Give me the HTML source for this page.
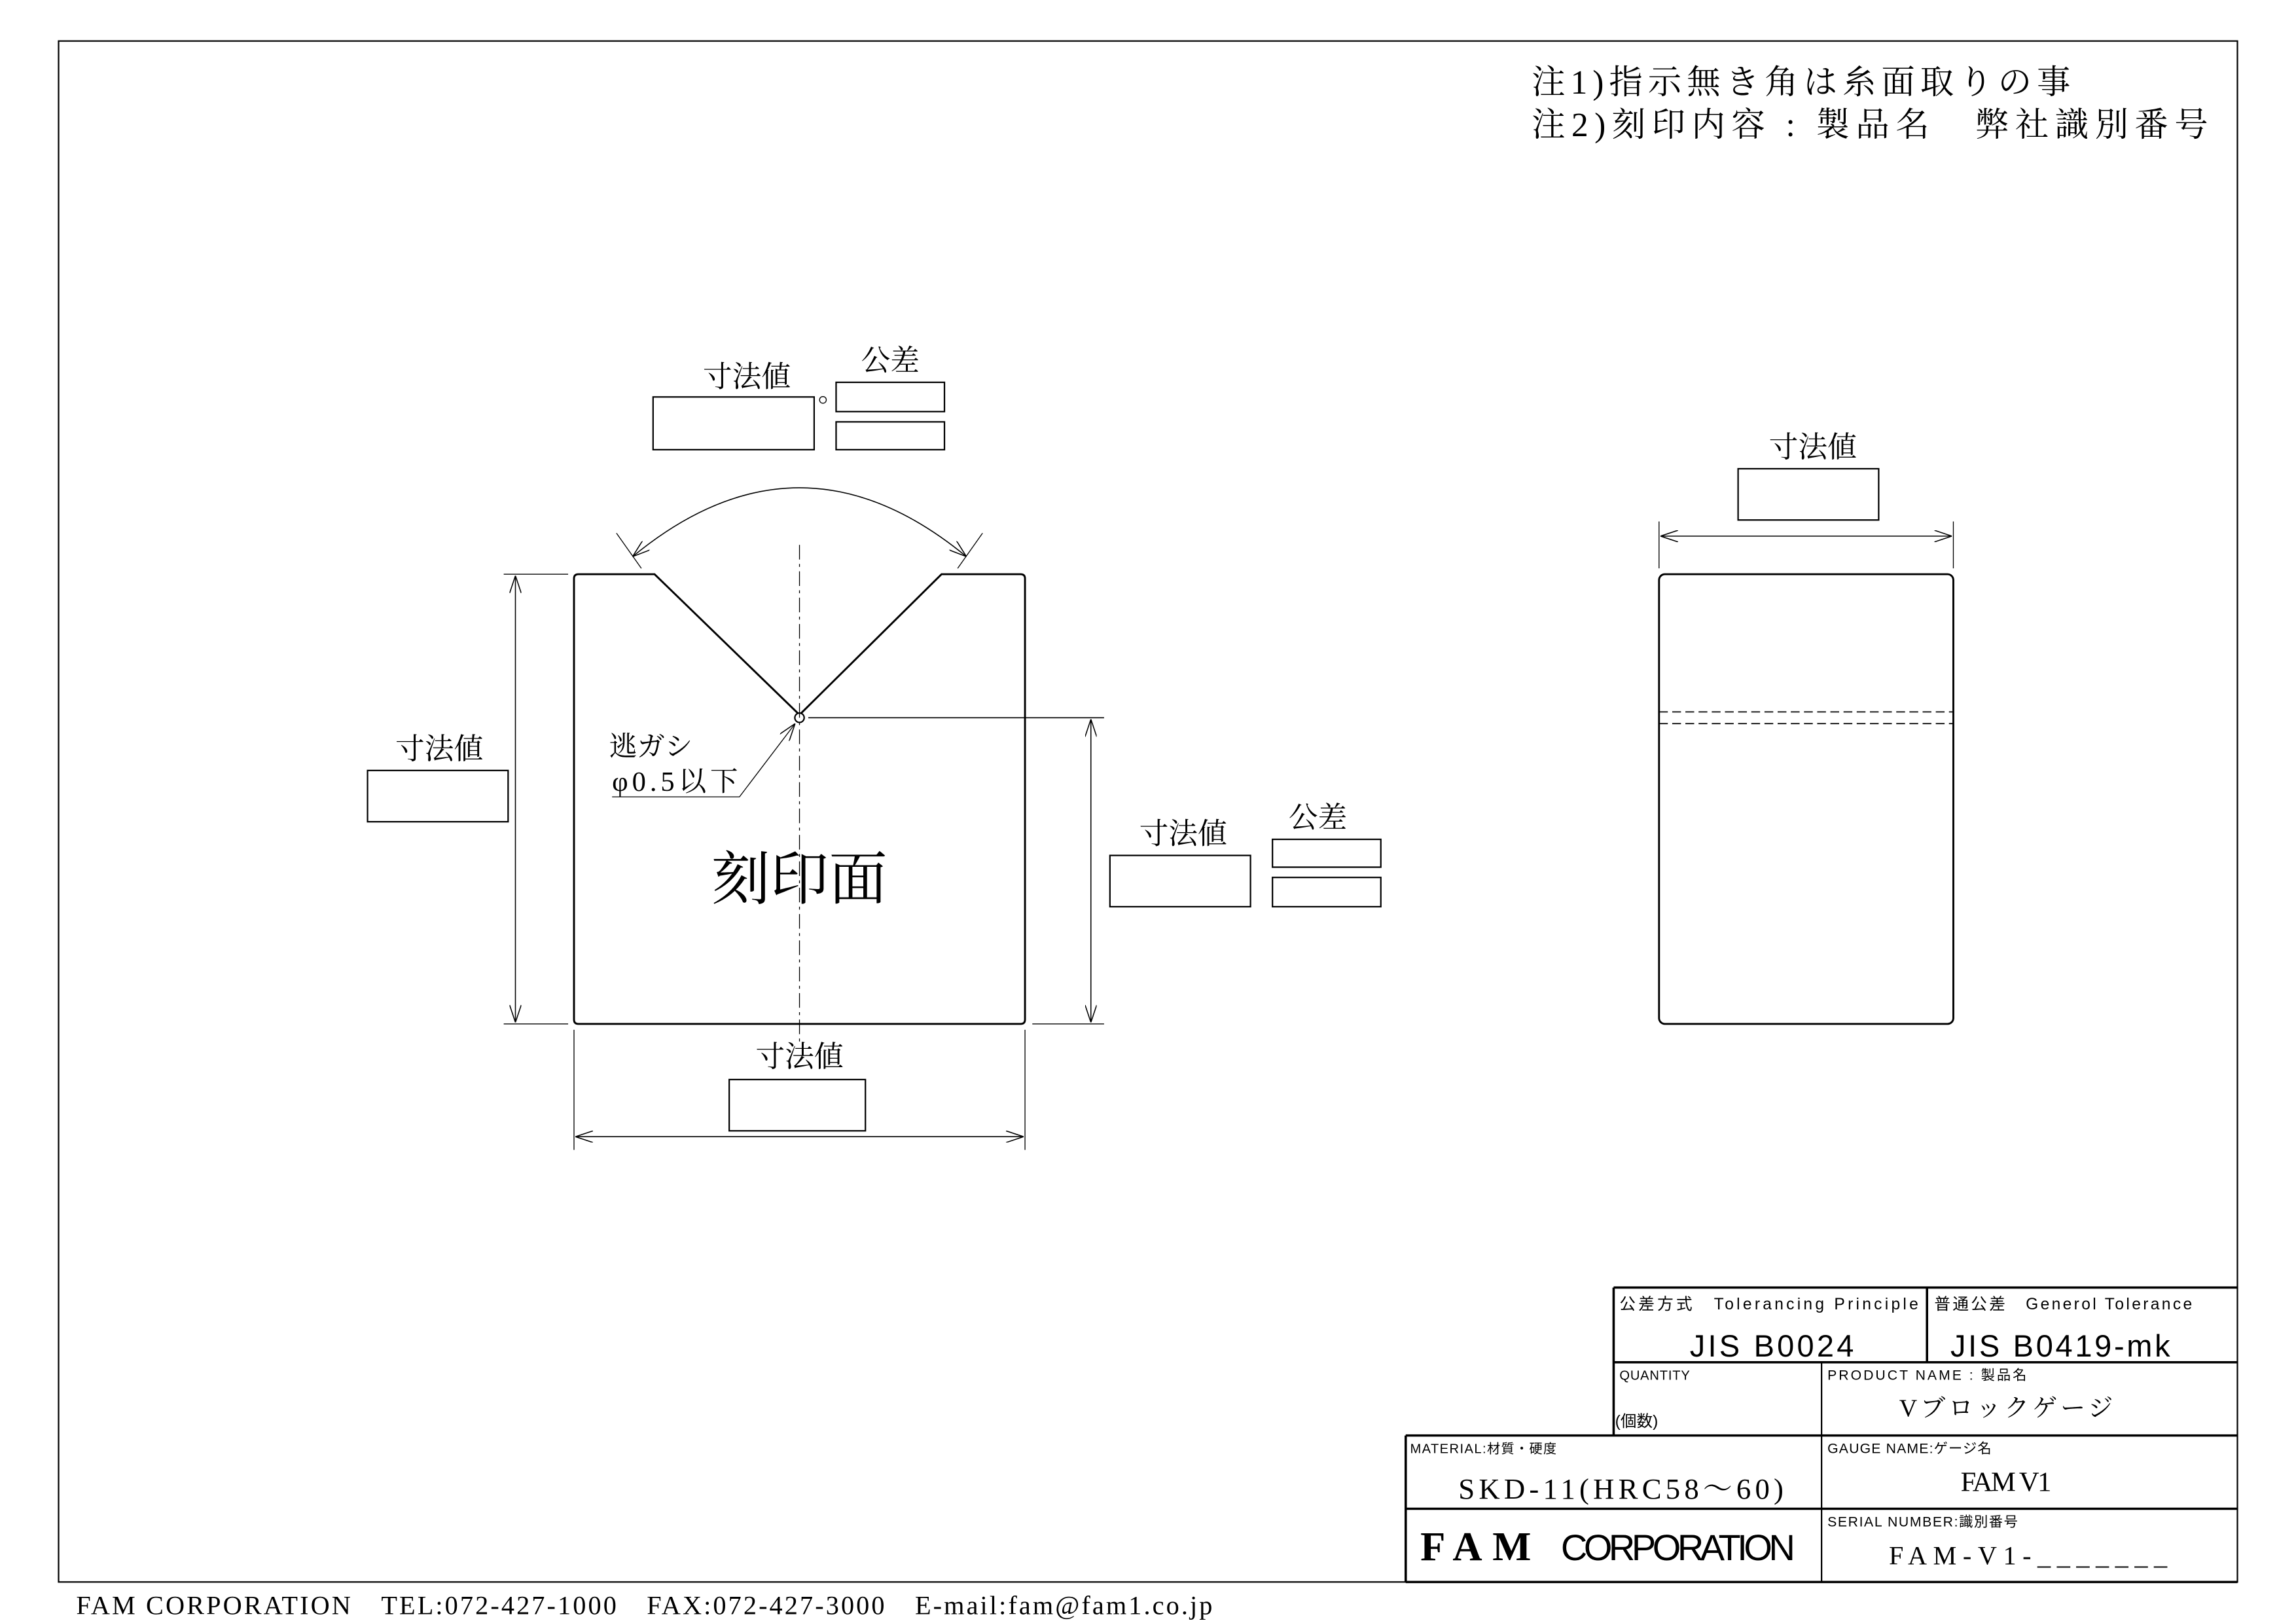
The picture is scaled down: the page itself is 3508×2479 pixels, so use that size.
<!DOCTYPE html>
<html><head><meta charset="utf-8"><style>
html,body{margin:0;padding:0;background:#fff;}
svg{display:block;}
text{font-family:"Liberation Serif","Noto Serif CJK SC","Noto Sans CJK JP",serif;fill:#000;}
.s{font-family:"Liberation Sans","Noto Sans CJK JP",sans-serif;}
</style></head><body>
<svg width="3508" height="2479" viewBox="0 0 1568 1108" preserveAspectRatio="none" xmlns="http://www.w3.org/2000/svg">
<defs>
<marker id="a" viewBox="0 0 12 8" refX="12" refY="4" markerWidth="12" markerHeight="8" markerUnits="userSpaceOnUse" orient="auto-start-reverse">
<path d="M0,0 L12,4 L0,8" fill="none" stroke="#000" stroke-width="0.7"/>
</marker>
</defs>
<rect width="1568" height="1108" fill="#fff"/>
<rect x="40" y="28" width="1488" height="1052" fill="none" stroke="#000" stroke-width="1"/>
<text x="1046" y="64" font-size="23" textLength="368">注1)指示無き角は糸面取りの事</text>
<text x="1046" y="93" font-size="23" textLength="462">注2)刻印内容 : 製品名　弊社識別番号</text>

<path d="M395,392 L447,392 L546,488 M546,488 L643,392 L697,392 Q700,392 700,395 L700,696 Q700,699 697,699 L395,699 Q392,699 392,696 L392,395 Q392,392 395,392" fill="none" stroke="#000" stroke-width="1.3"/>
<circle cx="546" cy="490" r="3.2" fill="#fff" stroke="#000" stroke-width="1"/>
<line x1="546" y1="372" x2="546" y2="712" stroke="#000" stroke-width="0.6" stroke-dasharray="10,3,2,3"/>
<path d="M432,380 Q546,286 660,380" fill="none" stroke="#000" stroke-width="0.7" marker-start="url(#a)" marker-end="url(#a)"/>
<line x1="421" y1="364" x2="438" y2="388" stroke="#000" stroke-width="0.6"/>
<line x1="671" y1="364" x2="654" y2="388" stroke="#000" stroke-width="0.6"/>
<text x="510" y="264" font-size="20" text-anchor="middle">寸法値</text>
<rect x="446" y="271" width="110" height="36" fill="none" stroke="#000" stroke-width="1"/>
<circle cx="562" cy="273" r="2.3" fill="none" stroke="#000" stroke-width="0.6"/>
<text x="608" y="253" font-size="20" text-anchor="middle">公差</text>
<rect x="571" y="261" width="74" height="20" fill="none" stroke="#000" stroke-width="1"/>
<rect x="571" y="288" width="74" height="19" fill="none" stroke="#000" stroke-width="1"/>
<line x1="344" y1="392" x2="388" y2="392" stroke="#000" stroke-width="0.6"/>
<line x1="344" y1="699" x2="388" y2="699" stroke="#000" stroke-width="0.6"/>
<line x1="352" y1="393" x2="352" y2="698" stroke="#000" stroke-width="0.7" marker-start="url(#a)" marker-end="url(#a)"/>
<text x="300" y="518" font-size="20" text-anchor="middle">寸法値</text>
<rect x="251" y="526" width="96" height="35" fill="none" stroke="#000" stroke-width="1"/>
<line x1="552" y1="490" x2="754" y2="490" stroke="#000" stroke-width="0.7"/>
<line x1="705" y1="699" x2="754" y2="699" stroke="#000" stroke-width="0.6"/>
<line x1="745" y1="491" x2="745" y2="698" stroke="#000" stroke-width="0.7" marker-start="url(#a)" marker-end="url(#a)"/>
<text x="808" y="576" font-size="20" text-anchor="middle">寸法値</text>
<rect x="758" y="584" width="96" height="35" fill="none" stroke="#000" stroke-width="1"/>
<text x="900" y="565" font-size="20" text-anchor="middle">公差</text>
<rect x="869" y="573" width="74" height="19" fill="none" stroke="#000" stroke-width="1"/>
<rect x="869" y="599" width="74" height="20" fill="none" stroke="#000" stroke-width="1"/>
<text x="416" y="516" font-size="19">逃ガシ</text>
<text x="418" y="540" font-size="19" textLength="86">φ0.5以下</text>
<polyline points="418,544 505,544 543,494" fill="none" stroke="#000" stroke-width="0.6" marker-end="url(#a)"/>
<text x="546" y="614" font-size="40" text-anchor="middle">刻印面</text>
<line x1="392" y1="703" x2="392" y2="785" stroke="#000" stroke-width="0.6"/>
<line x1="700" y1="703" x2="700" y2="785" stroke="#000" stroke-width="0.6"/>
<line x1="393" y1="776" x2="699" y2="776" stroke="#000" stroke-width="0.7" marker-start="url(#a)" marker-end="url(#a)"/>
<text x="546" y="728" font-size="20" text-anchor="middle">寸法値</text>
<rect x="498" y="737" width="93" height="35" fill="none" stroke="#000" stroke-width="1"/>

<rect x="1133" y="392" width="201" height="307" rx="4" fill="none" stroke="#000" stroke-width="1.3"/>
<line x1="1133" y1="486" x2="1334" y2="486" stroke="#000" stroke-width="0.8" stroke-dasharray="6,3"/>
<line x1="1133" y1="494" x2="1334" y2="494" stroke="#000" stroke-width="0.8" stroke-dasharray="6,3"/>
<line x1="1133" y1="356" x2="1133" y2="388" stroke="#000" stroke-width="0.6"/>
<line x1="1334" y1="356" x2="1334" y2="388" stroke="#000" stroke-width="0.6"/>
<line x1="1134" y1="366" x2="1333" y2="366" stroke="#000" stroke-width="0.7" marker-start="url(#a)" marker-end="url(#a)"/>
<text x="1238" y="312" font-size="20" text-anchor="middle">寸法値</text>
<rect x="1187" y="320" width="96" height="35" fill="none" stroke="#000" stroke-width="1"/>

<g stroke="#000" stroke-width="1.6" fill="none">
<line x1="1102" y1="879" x2="1528" y2="879"/>
<line x1="1102" y1="930" x2="1528" y2="930"/>
<line x1="960" y1="980" x2="1528" y2="980"/>
<line x1="960" y1="1030" x2="1528" y2="1030"/>
<line x1="960" y1="1080" x2="1528" y2="1080"/>
<line x1="1102" y1="879" x2="1102" y2="980"/>
<line x1="1316" y1="879" x2="1316" y2="930"/>
<line x1="960" y1="980" x2="960" y2="1080"/>
</g>
<line x1="1244" y1="930" x2="1244" y2="1080" stroke="#000" stroke-width="1"/>
<text class="s" x="1106" y="894" font-size="11" textLength="204">公差方式　Tolerancing Principle</text>
<text class="s" x="1210" y="926" font-size="21" text-anchor="middle" fill="#333" textLength="112">JIS B0024</text>
<text class="s" x="1321" y="894" font-size="11" textLength="176">普通公差　Generol Tolerance</text>
<text class="s" x="1407" y="926" font-size="21" text-anchor="middle" textLength="150">JIS B0419-mk</text>
<text class="s" x="1106" y="942" font-size="9" textLength="48">QUANTITY</text>
<text class="s" x="1103" y="974" font-size="11">(個数)</text>
<text class="s" x="1248" y="942" font-size="9.5" textLength="136">PRODUCT NAME : 製品名</text>
<text x="1370" y="967" font-size="17" text-anchor="middle" textLength="146">Vブロックゲージ</text>
<text class="s" x="963" y="992" font-size="9" textLength="100">MATERIAL:材質・硬度</text>
<text x="1107" y="1023" font-size="20" text-anchor="middle" textLength="222">SKD-11(HRC58〜60)</text>
<text class="s" x="1248" y="992" font-size="9.5" textLength="112">GAUGE NAME:ゲージ名</text>
<text x="1370" y="1018" font-size="19" text-anchor="middle" textLength="62">FAM V1</text>
<text x="970" y="1065" font-size="28" font-weight="bold" letter-spacing="7">FAM</text>
<text class="s" x="1066" y="1065" font-size="25" textLength="160">CORPORATION</text>
<text class="s" x="1248" y="1042" font-size="9.5" textLength="130">SERIAL NUMBER:識別番号</text>
<text x="1290" y="1068" font-size="18" textLength="190">FAM-V1-_______</text>

<text x="52" y="1102" font-size="18" textLength="776">FAM CORPORATION　TEL:072-427-1000　FAX:072-427-3000　E-mail:fam@fam1.co.jp</text>
</svg>
</body></html>
